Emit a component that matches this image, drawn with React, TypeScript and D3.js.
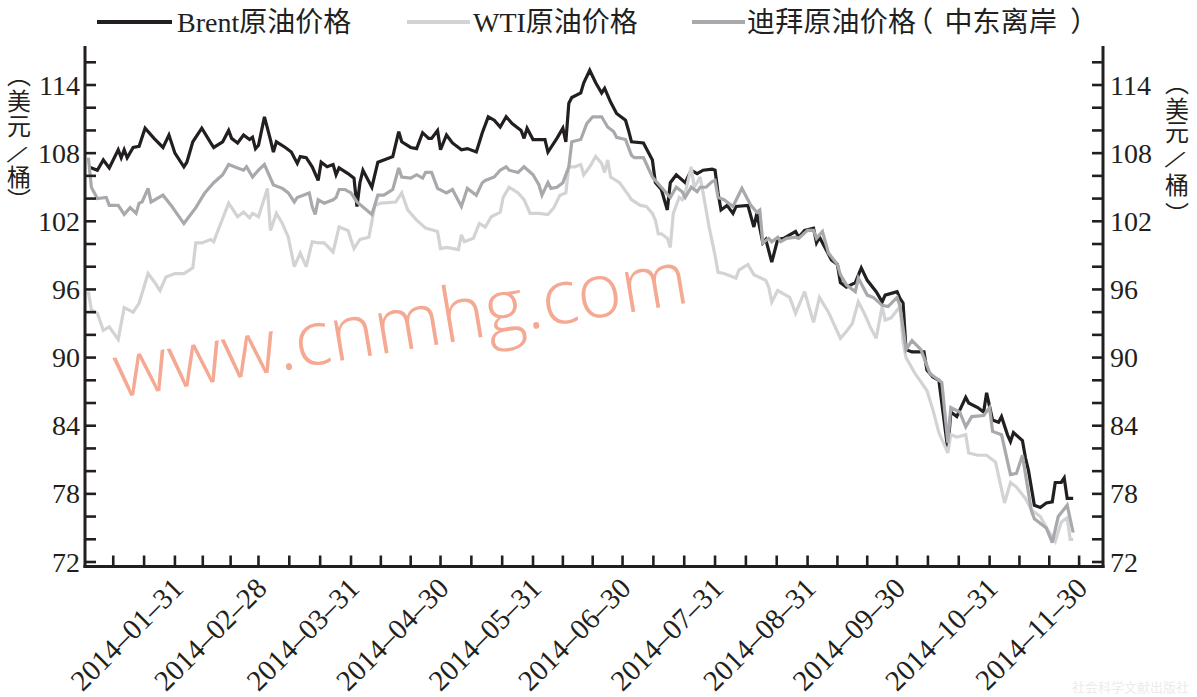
import React from 'react';
import * as d3 from 'd3';

// ---------- data (days after 2014-01-01, USD/barrel) ----------
const brentDays = [1,4,6,8,11,12,13,14,16,18,20,23,26,28,30,33,34,36,39,42,43,46,48,49,51,53,55,56,57,58,60,62,63,64,67,69,71,72,74,76,78,79,81,83,84,85,88,90,91,92,93,96,98,100,102,103,105,106,109,111,113,115,116,118,119,121,123,126,128,131,133,135,137,139,141,143,146,147,148,150,152,154,155,158,160,161,162,163,166,167,169,171,173,174,176,178,181,182,183,187,190,191,193,195,196,198,201,203,205,207,210,211,212,213,215,217,218,222,224,225,227,228,230,232,234,236,238,239,241,244,245,246,248,250,252,253,255,258,260,262,265,267,268,272,273,274,275,277,281,282,284,286,289,290,292,295,296,299,301,302,304,306,307,309,310,311,314,315,316,318,320,322,324,325,327,328,329,331];
const brentPrice = [106.8,106.5,107.4,106.7,108.3,107.6,108.3,107.6,108.5,108.6,110.2,109.3,108.5,109.6,108,106.8,107.2,109,110.2,108.9,108.5,109,110,109.3,108.9,109.6,109.2,109.4,108.4,108.7,111.2,109.2,108.1,109,108.5,108.1,107.1,107.7,107.6,106.8,105.6,107.2,106.8,107,106.1,106.7,106.2,105.8,103.3,105.4,106.5,105,107.2,107.4,107.6,107.7,109.9,109,108.5,108.4,109.8,109.3,109.3,110,108.3,109.6,108.9,108.3,108.4,108.1,109.8,111.2,110.9,110.3,111.2,110.6,110,109.3,110.2,109.2,109.2,109.2,108.1,109.3,110.2,109,112.4,112.9,113.3,114.2,115.3,114.2,113.3,113.7,112.5,111.5,110.9,110,109,108.9,107.4,105.4,104.8,103,105.4,106.1,105.4,106.5,106.2,106.5,106.6,106.5,104.5,103,103.4,102.7,103.3,103.4,101.5,102.7,100.1,100.4,98.4,100.4,100.5,100.8,101.1,100.6,101.2,101.4,100.1,100.6,99.6,98.6,98.2,96.6,96.2,96.6,97.9,96.8,95.8,94.9,95.5,95.8,95.2,94.8,90.7,90.5,90.5,88.9,88.3,88,81.9,85.2,84.8,86.5,86,85.6,85.2,86.9,84.5,84.3,84.8,83.2,82.6,83.4,82.7,81.2,80.1,77,76.8,77.2,77.3,79,79,79.4,77.6,77.6];

const wtiDays = [1,2,4,6,8,11,13,16,18,21,23,25,27,30,33,36,37,39,42,43,44,48,51,53,55,56,58,61,62,64,66,68,70,72,74,76,78,80,83,85,88,90,92,95,97,99,104,106,108,111,114,118,119,121,125,126,127,130,132,134,136,139,140,142,145,147,149,152,155,157,159,161,162,164,166,167,169,171,173,174,175,176,179,182,183,186,188,190,191,192,193,195,196,197,199,200,201,203,204,205,206,207,209,211,212,214,216,218,219,222,224,228,229,230,232,236,238,241,244,246,249,253,255,257,259,261,263,265,267,268,270,273,274,275,278,282,284,286,289,290,292,295,296,299,302,305,308,310,312,315,317,320,323,325,327,329,330,331];
const wtiPrice = [95.8,94.2,93.9,92.4,92.7,91.6,94.4,94,94.8,97.4,96.7,95.9,97.1,97.4,97.4,97.9,100.1,100.1,100.4,100.2,100.9,103.6,102.4,102.8,102.3,102.7,102.4,104.9,101.2,102.7,101.8,100.6,98,99.2,98,100.2,100.1,100.1,99.3,101.5,101.2,99.6,100.4,100.6,103.4,103.6,103.7,104.5,103,102.1,101.4,101.1,99.6,99.7,99.5,100.8,100.2,100.5,101.8,101.5,102.4,102.8,104.1,105,104.5,103.9,102.7,102.7,102.6,103.2,104.3,104.5,106.8,106.8,107,106.1,106.8,107.7,107.1,106.3,107.4,105.9,105.4,104.3,103.9,103.4,103.3,102.7,102.1,100.9,100.9,100.5,99.7,102.7,104.1,103.9,104.5,106.8,105,105.4,105.9,104.5,101.5,99,97.5,97.4,97.2,97,97.7,98.2,97.3,96.8,96.2,94.9,95.9,95.3,93.9,95.8,93.1,95.3,94,91.7,92.3,93,94.9,93.9,92.7,91.7,94.5,93.3,93.5,94.5,91.4,90,88.6,87.1,85.4,83.4,81.6,83.2,83,83.2,81.6,81.4,81.4,80.8,77.2,79,78.6,77.6,76.6,76,74.6,73.8,75.5,75.9,74,74];

const dubaiDays = [1,2,4,7,8,11,13,15,17,18,19,21,22,26,29,33,37,40,43,46,48,51,53,54,56,58,60,63,66,68,70,71,73,75,76,77,78,80,83,84,85,87,89,91,96,98,100,103,105,106,109,111,113,114,116,118,121,123,126,128,131,133,134,137,139,141,142,145,147,150,152,153,155,156,158,160,162,163,166,168,170,173,175,177,178,181,183,184,187,190,193,196,198,200,201,203,205,206,208,210,211,212,214,217,220,222,223,225,226,227,229,230,232,233,235,238,239,242,244,245,247,249,252,253,255,258,259,262,264,267,269,272,273,275,277,280,283,287,289,290,293,295,297,301,303,304,307,310,312,314,317,318,322,324,326,329,331];
const dubaiPrice = [107.6,105,104,104.1,103.4,103.4,102.6,103.2,102.7,103.6,103.7,104.9,103.7,104.3,103.3,101.8,103.2,104.5,105.4,106.1,107,106.7,106.5,106.8,105.9,106.5,107,105.2,104.9,104.5,103.7,104.1,104.3,104.5,103.3,102.6,103.9,103.6,103.9,104.1,104.8,104.8,104.5,103.7,102.6,104.3,104.3,104.8,106.7,105.9,105.8,106.1,105.8,106.3,106.3,104.9,104.5,104.8,103.3,104.9,104.3,105.4,105.6,105.9,106.5,106.8,106.5,106.3,106.8,106.1,105.2,104.3,105.4,104.9,105,105.4,106.8,109,109.2,110.6,111.2,111.2,110.3,109.9,109.4,109.2,107.8,107.6,107.6,105.9,105,104.1,105,104.6,104.1,105,104.6,105,105,105.5,105.6,104.1,103.9,103.3,104.9,103.9,103.4,102.8,103,100.1,100.5,100.2,100.6,100.2,100.5,100.6,100.5,101.2,101.2,100.5,101.1,99.2,98.2,97.3,96.4,95.8,97,95.5,95.3,94.6,94.5,95.3,94.5,90.7,91.5,90.7,88.6,87.8,82.5,85.6,85.2,83.9,84.8,84.9,85.6,83.5,83.2,79.7,79.8,81.4,76.5,75.8,75,73.7,76,77,74.6];

const yTickValues = [72, 78, 84, 90, 96, 102, 108, 114];
const xTickLabels = ['2014–01–31','2014–02–28','2014–03–31','2014–04–30','2014–05–31','2014–06–30','2014–07–31','2014–08–31','2014–09–30','2014–10–31','2014–11–30'];
const monthEnds = ['2013-12-31','2014-01-31','2014-02-28','2014-03-31','2014-04-30','2014-05-31','2014-06-30','2014-07-31','2014-08-31','2014-09-30','2014-10-31','2014-11-30'];
const legendLabels = ['Brent原油价格', 'WTI原油价格', '迪拜原油价格（中东离岸）'];
const unitChars = ['︵', '美', '元', '/', '桶', '︶'];

const INK = '#231f20';
const COLORS = ['#231f20', '#d1d3d4', '#a7a9ac'];

const start = new Date(2014, 0, 1);
const toDate = (d: number) => d3.timeDay.offset(start, d);
const parse = (s: string) => { const [Y, M, D] = s.split('-').map(Number); return new Date(Y, M - 1, D); };

export default function App() {
  const x = d3.scaleTime().domain([start, new Date(2014, 11, 8)]).range([85.4, 1103]);
  const y = d3.scaleLinear().domain([72, 116]).range([562, 62.3]);
  const left = 85, right = 1103, bottom = 566.5, top = 46;

  const line = d3.line<[number, number]>()
    .x(p => x(toDate(p[0])))
    .y(p => y(p[1]));

  const series = [
    { days: brentDays, vals: brentPrice, color: COLORS[0] },
    { days: wtiDays, vals: wtiPrice, color: COLORS[1] },
    { days: dubaiDays, vals: dubaiPrice, color: COLORS[2] },
  ];

  const minorY = d3.range(72, 116.1, 2);
  const ends = monthEnds.map(parse);
  const xTicks: Date[] = [];
  for (let i = 1; i < ends.length; i++) {
    const a = ends[i - 1].getTime(), b = ends[i].getTime();
    for (let k = 1; k <= 3; k++) xTicks.push(new Date(a + (b - a) * k / 3));
  }

  const serif = '"Liberation Serif", "Times New Roman", serif';
  const cjk = '"Liberation Serif", "Noto Sans CJK SC", serif';

  const legendX = [[97, 172, 177], [407, 470, 473], [692, 745, 747]];
  const dubaiCharX = Array.from(legendLabels[2]).map((ch, k) =>
    legendX[2][2] + k * 28.2 + (ch === '（' ? -11 : ch === '）' ? 13 : 0));

  return (
    <svg width={1197} height={697} style={{ display: 'block', position: 'absolute', left: 0, top: 0 }}>
      <rect width={1197} height={697} fill="#fff" />
      {/* watermark */}
      <text x={118} y={398} transform="rotate(-9.5,118,398)" fontFamily='"Open Sans", sans-serif' fontWeight={300}
        fontSize={76} fill="#f5a892">www.cnmhg.com</text>

      {/* series */}
      {series.map((s, i) => (
        <path key={i} d={line(s.days.map((d, j) => [d, s.vals[j]] as [number, number])) || ''}
          fill="none" stroke={s.color} strokeWidth={3.2} strokeLinejoin="miter" strokeMiterlimit={3} />
      ))}

      {/* axes */}
      <g stroke={INK} fill="none">
        <line x1={left} x2={left} y1={top} y2={bottom + 1.5} strokeWidth={3} />
        <line x1={right} x2={right} y1={top} y2={bottom + 1.5} strokeWidth={3} />
        <line x1={left - 1.5} x2={right + 1.5} y1={bottom} y2={bottom} strokeWidth={3} />
        {minorY.map(v => (
          <g key={v}>
            <line x1={left} x2={left + 11} y1={y(v)} y2={y(v)} strokeWidth={2.6} />
            <line x1={right} x2={right - 11} y1={y(v)} y2={y(v)} strokeWidth={2.6} />
          </g>
        ))}
        {xTicks.map((t, i) => (
          <line key={i} x1={x(t)} x2={x(t)} y1={bottom} y2={bottom - 11} strokeWidth={2.6} />
        ))}
      </g>

      {/* y labels */}
      {yTickValues.map(v => (
        <g key={v} fontFamily={serif} fontSize={28} fill={INK}>
          <text x={80} y={y(v)} textAnchor="end" dominantBaseline="central">{v}</text>
          <text x={1110} y={y(v)} textAnchor="start" dominantBaseline="central">{v}</text>
        </g>
      ))}

      {/* x labels */}
      {ends.slice(1).map((d, i) => (
        <text key={i} transform={`translate(${x(d) + 10},${590}) rotate(-45)`} textAnchor="end"
          fontFamily={serif} fontSize={29} fill={INK}>{xTickLabels[i]}</text>
      ))}

      {/* unit titles */}
      {unitChars.map((c, i) => {
        const ly = [73, 99, 124, 152, 175, 198][i];
        const ry = [81, 107, 130, 157, 183, 212][i];
        const rot = c === '/' ? 35 : 0;
        return (
          <g key={i} fontFamily='"Noto Sans CJK SC", sans-serif' fontSize={24} fill={INK}>
            <text x={19} y={ly} textAnchor="middle" dominantBaseline="central" transform={`rotate(${rot},19,${ly})`}>{c}</text>
            <text x={1177} y={ry} textAnchor="middle" dominantBaseline="central" transform={`rotate(${rot},1177,${ry})`}>{c}</text>
          </g>
        );
      })}

      {/* legend */}
      {legendLabels.map((lab, i) => (
        <g key={i}>
          <line x1={legendX[i][0]} x2={legendX[i][1]} y1={22} y2={22} stroke={COLORS[i]} strokeWidth={4} />
          {i === 2 ? (
            <text x={dubaiCharX.join(' ')} y={32} fontFamily={cjk} fontSize={28} fill={INK}>{lab}</text>
          ) : (
            <text x={legendX[i][2]} y={32} fontFamily={cjk} fontSize={28} fill={INK}>{lab}</text>
          )}
        </g>
      ))}

      <text x={1072} y={692} fontFamily='"Noto Sans CJK SC", sans-serif' fontSize={13} fill="#ececec">社会科学文献出版社</text>
    </svg>
  );
}
